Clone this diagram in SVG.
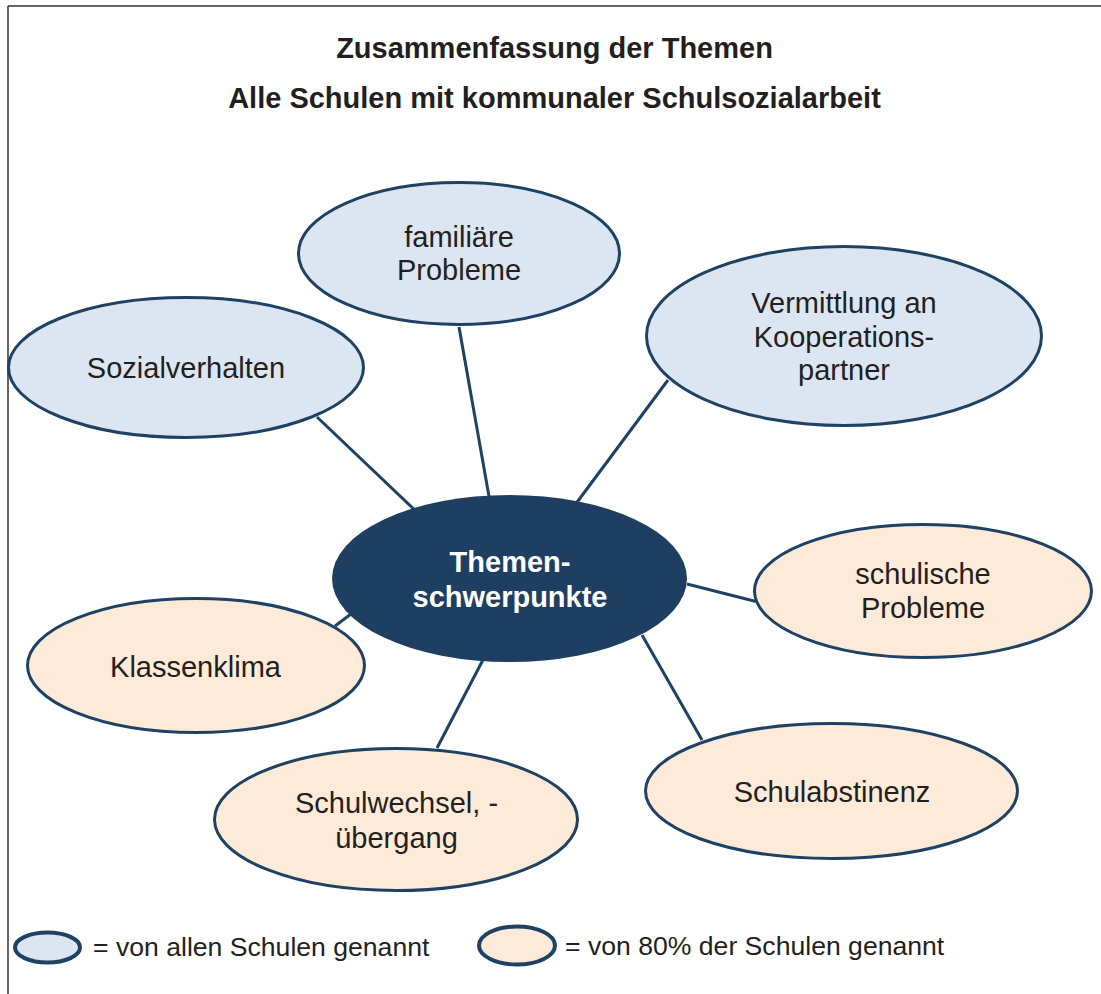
<svg xmlns="http://www.w3.org/2000/svg" width="1101" height="994" viewBox="0 0 1101 994">
<style>
  .t { font-family: "Liberation Sans", Arial, sans-serif; fill: #231f20; text-anchor: middle; }
  .title { font-size: 29px; font-weight: bold; }
  .lbl { font-size: 29px; }
  .ctr { font-size: 29px; font-weight: bold; fill: #ffffff; }
  .leg { font-size: 26.6px; text-anchor: start; }
  .blue { fill: #dce6f2; stroke: #1f4263; stroke-width: 3; }
  .peach { fill: #fdead8; stroke: #1f4263; stroke-width: 3; }
  .conn line { stroke: #1f4263; stroke-width: 3; }
</style>
<rect x="0" y="0" width="1101" height="994" fill="#ffffff"/>
<g id="frame" stroke="#333333" stroke-width="1.5" fill="none">
  <line x1="8" y1="6" x2="1101" y2="6"/>
  <line x1="8" y1="6" x2="8" y2="994"/>
</g>
<g id="title">
  <text class="t title" x="554.5" y="58">Zusammenfassung der Themen</text>
  <text class="t title" x="554.5" y="108">Alle Schulen mit kommunaler Schulsozialarbeit</text>
</g>
<g id="connectors" class="conn">
  <line x1="317" y1="417" x2="420" y2="515"/>
  <line x1="459" y1="327" x2="490" y2="502"/>
  <line x1="668" y1="380" x2="572" y2="509"/>
  <line x1="687" y1="584" x2="756" y2="601.5"/>
  <line x1="642" y1="635" x2="702" y2="740"/>
  <line x1="485" y1="656" x2="437" y2="748"/>
  <line x1="355" y1="611" x2="335" y2="626"/>
</g>
<g id="node-familiaere">
  <ellipse class="blue" cx="459" cy="253.5" rx="160.5" ry="71"/>
  <text class="t lbl" x="459" y="247">familiäre</text>
  <text class="t lbl" x="459" y="280">Probleme</text>
</g>
<g id="node-sozialverhalten">
  <ellipse class="blue" cx="186" cy="367.5" rx="177.5" ry="70"/>
  <text class="t lbl" x="186" y="378">Sozialverhalten</text>
</g>
<g id="node-vermittlung">
  <ellipse class="blue" cx="844" cy="336" rx="197.5" ry="89.5"/>
  <text class="t lbl" x="844" y="313">Vermittlung an</text>
  <text class="t lbl" x="844" y="347">Kooperations-</text>
  <text class="t lbl" x="844" y="380">partner</text>
</g>
<g id="node-center">
  <ellipse cx="509.5" cy="578.5" rx="177.5" ry="83.5" fill="#1e3f61"/>
  <text class="t ctr" x="510" y="572">Themen-</text>
  <text class="t ctr" x="510" y="607">schwerpunkte</text>
</g>
<g id="node-schulische">
  <ellipse class="peach" cx="923" cy="591" rx="168.5" ry="66.5"/>
  <text class="t lbl" x="923" y="584">schulische</text>
  <text class="t lbl" x="923" y="618">Probleme</text>
</g>
<g id="node-klassenklima">
  <ellipse class="peach" cx="196" cy="665.5" rx="168.5" ry="67"/>
  <text class="t lbl" x="195.5" y="677">Klassenklima</text>
</g>
<g id="node-schulwechsel">
  <ellipse class="peach" cx="396" cy="819.5" rx="181.5" ry="71"/>
  <text class="t lbl" x="396.5" y="813">Schulwechsel, -</text>
  <text class="t lbl" x="396.5" y="848">übergang</text>
</g>
<g id="node-schulabstinenz">
  <ellipse class="peach" cx="831.5" cy="791" rx="186" ry="67.5"/>
  <text class="t lbl" x="832" y="802">Schulabstinenz</text>
</g>
<g id="legend">
  <ellipse cx="47.5" cy="947.5" rx="32.5" ry="15" fill="#dce6f2" stroke="#1f4263" stroke-width="4"/>
  <text class="t leg" x="93" y="956">= von allen Schulen genannt</text>
  <ellipse cx="517" cy="945.5" rx="38" ry="19" fill="#fdead8" stroke="#1f4263" stroke-width="4"/>
  <text class="t leg" x="565" y="955">= von 80% der Schulen genannt</text>
</g>
</svg>
